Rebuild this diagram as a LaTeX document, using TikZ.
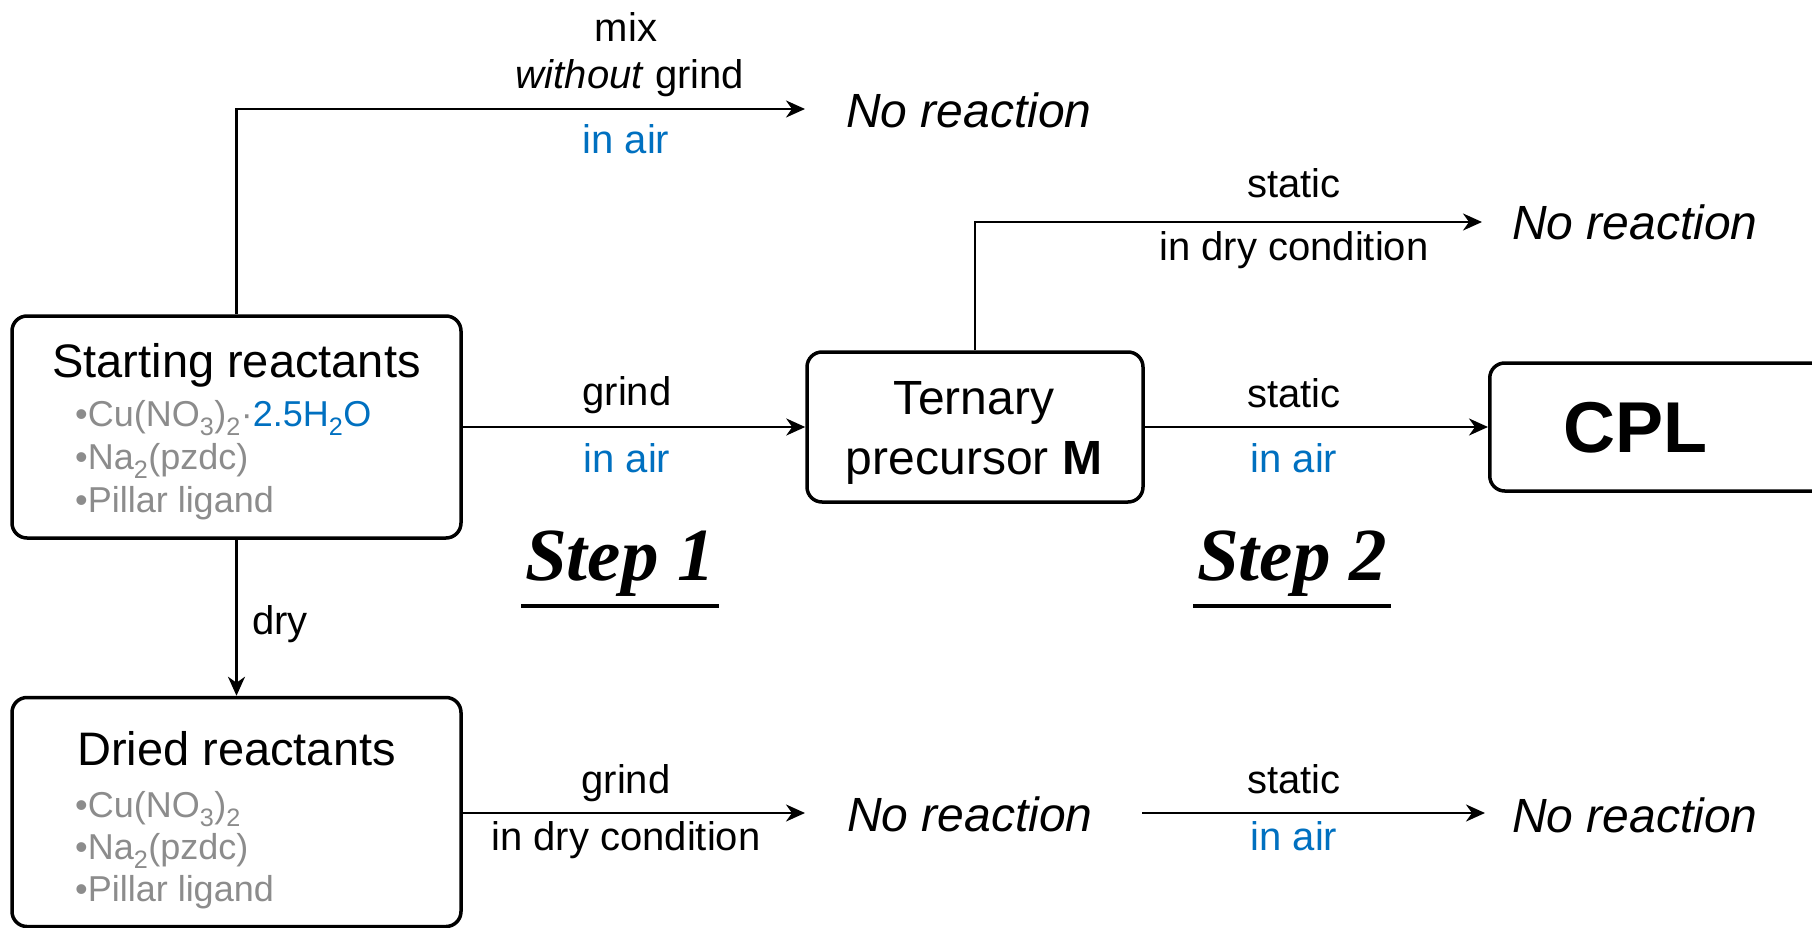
\documentclass[tikz,border=0pt]{standalone}
\usepackage{fontspec}
\setmainfont{Liberation Sans}
\newfontfamily\stepfont{Liberation Serif}
\usetikzlibrary{arrows.meta}
\definecolor{itemgray}{RGB}{140,140,140}
\definecolor{airblue}{RGB}{0,112,192}
\tikzset{
  box/.style={draw, line width=3.5pt, rounded corners=15pt, inner sep=0pt},
  arr/.style={line width=2.5pt, -{Stealth[length=19pt,width=17pt,inset=6pt]}},
  lab/.style={font=\fontsize{40}{48}\selectfont, inner sep=0pt},
  airlab/.style={text=airblue},
  titlelab/.style={font=\fontsize{47}{56}\selectfont, inner sep=0pt},
  itemlab/.style={font=\fontsize{36}{42}\selectfont, text=itemgray, inner sep=0pt},
  noreact/.style={font=\fontsize{48}{56}\selectfont\itshape, inner sep=0pt},
  steplab/.style={font=\stepfont\fontsize{75}{80}\selectfont\bfseries\itshape, inner xsep=4pt, inner ysep=10pt},
  underl/.style={line width=4pt}
}
\begin{document}
\begin{tikzpicture}[x=1pt,y=-1pt]
\useasboundingbox (0,0) rectangle (1812,928);

% boxes
\node[box, minimum width=449pt, minimum height=222pt] (start) at (236.5,427) {};
\node[box, minimum width=449pt, minimum height=229pt] (dried) at (236.5,812) {};
\node[box, minimum width=336pt, minimum height=150pt] (tern) at (975,427) {};
\node[align=center, inner sep=0pt, font=\fontsize{48}{60}\selectfont, anchor=north]
      (terntext) at (974,381) {Ternary\\precursor \textbf{M}};
\node[box, minimum width=360pt, minimum height=128pt, anchor=west] (cpl) at (1488,427) {};
\node[font=\fontsize{72}{80}\selectfont\bfseries, inner sep=0pt] (cpltext) at (1635,428) {CPL};

% box texts
\node[titlelab, anchor=base] (starttitle) at (236.5,377) {Starting reactants};
\node[itemlab, anchor=base west] (sa) at (75,426) {•Cu(NO\textsubscript{3})\textsubscript{2}·{\color{airblue}2.5H\textsubscript{2}O}};
\node[itemlab, anchor=base west] (sb) at (75,469) {•Na\textsubscript{2}(pzdc)};
\node[itemlab, anchor=base west] (sc) at (75,512) {•Pillar ligand};

\node[titlelab, anchor=base] (driedtitle) at (236.5,765) {Dried reactants};
\node[itemlab, anchor=base west] (da) at (75,817) {•Cu(NO\textsubscript{3})\textsubscript{2}};
\node[itemlab, anchor=base west] (db) at (75,859) {•Na\textsubscript{2}(pzdc)};
\node[itemlab, anchor=base west] (dc) at (75,901) {•Pillar ligand};

% no reaction
\node[noreact, anchor=base west] (nr1) at (846,128) {No reaction};
\node[noreact, anchor=base west] (nr2) at (1512,240) {No reaction};
\node[noreact, anchor=base west] (nr3) at (847,831) {No reaction};
\node[noreact, anchor=base west] (nr4) at (1512,832) {No reaction};

% arrow ends
\coordinate (t1) at (805,109);
\coordinate (t2) at (1482,222);
\coordinate (t3) at (805,813);
\coordinate (b4) at (1142,813);
\coordinate (t4) at (1485,813);

% connectors
\draw[arr] (start.north) |- (t1);
\draw[arr] (tern.north) |- (t2);
\draw[arr] (start.east) -- (tern.west);
\draw[arr] (tern.east) -- (cpl.west);
\draw[arr] (start.south) -- (dried.north);
\draw[arr] (dried.east |- t3) -- (t3);
\draw[arr] (b4) -- (t4);

% labels
\node[lab, anchor=base] (mixl) at (626,42) {mix};
\node[lab, anchor=base] (wgl) at (630,89) {\textit{without} grind};
\node[lab, airlab, anchor=base] (air1) at (626,154) {in air};
\node[lab, anchor=base] (gr1) at (627,405) {grind};
\node[lab, airlab, anchor=base] (air2) at (627,472) {in air};
\node[lab, anchor=base] (st1) at (1294,198) {static};
\node[lab, anchor=base] (dc1) at (1294,260) {in dry condition};
\node[lab, anchor=base] (st2) at (1294,407) {static};
\node[lab, airlab, anchor=base] (air3) at (1294,472) {in air};
\node[lab, anchor=base] (gr2) at (626,793) {grind};
\node[lab, anchor=base] (dc2) at (626,850) {in dry condition};
\node[lab, anchor=base] (st3) at (1294,793) {static};
\node[lab, airlab, anchor=base] (air4) at (1294,850) {in air};
\node[lab, anchor=base west] (dryl) at (252,634) {dry};

% steps
\node[steplab, anchor=base] (step1) at (620,580) {Step 1};
\draw[underl] (step1.south west) -- (step1.south east);
\node[steplab, anchor=base] (step2) at (1292,580) {Step 2};
\draw[underl] (step2.south west) -- (step2.south east);
\end{tikzpicture}
\end{document}
